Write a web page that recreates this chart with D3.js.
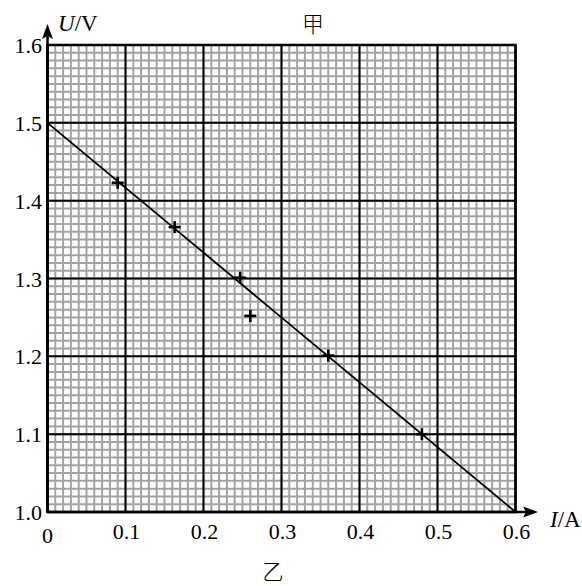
<!DOCTYPE html>
<html><head><meta charset="utf-8">
<script src="https://cdn.jsdelivr.net/npm/d3@7"></script>
<style>html,body{margin:0;padding:0;background:#fff;}svg{display:block;}</style>
</head><body>
<script>
const currentI = [0.09, 0.163, 0.247, 0.26, 0.36, 0.48];
const voltageU = [1.423, 1.366, 1.301, 1.252, 1.201, 1.10];
const fitI = [0, 0.6];
const fitU = [1.5, 1.0];
const xTicks = [0, 0.1, 0.2, 0.3, 0.4, 0.5, 0.6];
const yTicks = [1.0, 1.1, 1.2, 1.3, 1.4, 1.5, 1.6];

const W = 582, H = 586;
const svg = d3.select("body").append("svg").attr("width", W).attr("height", H);
const x = d3.scaleLinear().domain([0, 0.6]).range([47.5, 515.5]);
const y = d3.scaleLinear().domain([1.0, 1.6]).range([512, 45]);

// minor grid
const minorX = d3.range(0, 61).map(i => i * 0.01);
const minorY = d3.range(0, 61).map(i => 1.0 + i * 0.01);
const g = svg.append("g");
g.selectAll(".mx").data(minorX).enter().append("line")
  .attr("x1", d => x(d)).attr("x2", d => x(d)).attr("y1", y(1.0)).attr("y2", y(1.6))
  .attr("stroke", "#a3a3a3").attr("stroke-width", 2);
g.selectAll(".my").data(minorY).enter().append("line")
  .attr("y1", d => y(d)).attr("y2", d => y(d)).attr("x1", x(0)).attr("x2", x(0.6))
  .attr("stroke", "#a3a3a3").attr("stroke-width", 2);
// major grid
g.selectAll(".Mx").data(xTicks).enter().append("line")
  .attr("x1", d => x(d)).attr("x2", d => x(d)).attr("y1", y(1.0)).attr("y2", y(1.6))
  .attr("stroke", "#000").attr("stroke-width", 2);
g.selectAll(".My").data(yTicks).enter().append("line")
  .attr("y1", d => y(d)).attr("y2", d => y(d)).attr("x1", x(0)).attr("x2", x(0.6))
  .attr("stroke", "#000").attr("stroke-width", 2);
g.append("rect").attr("x", x(0)).attr("y", y(1.6)).attr("width", x(0.6) - x(0)).attr("height", y(1.0) - y(1.6))
  .attr("fill", "none").attr("stroke", "#000").attr("stroke-width", 2.5);

// axes with arrows
svg.append("line").attr("x1", x(0)).attr("x2", x(0)).attr("y1", y(1.0)).attr("y2", 30).attr("stroke", "#000").attr("stroke-width", 2.5);
svg.append("path").attr("d", `M${x(0)},24 L${x(0)-5.5},39 L${x(0)},36 L${x(0)+5.5},39 Z`).attr("fill", "#000");
svg.append("line").attr("x1", x(0)).attr("x2", 532).attr("y1", y(1.0)).attr("y2", y(1.0)).attr("stroke", "#000").attr("stroke-width", 2.5);
svg.append("path").attr("d", `M538,${y(1.0)} L523,${y(1.0)-5.5} L526,${y(1.0)} L523,${y(1.0)+5.5} Z`).attr("fill", "#000");

// fit line
svg.append("line").attr("x1", x(fitI[0])).attr("y1", y(fitU[0])).attr("x2", x(fitI[1])).attr("y2", y(fitU[1]))
  .attr("stroke", "#000").attr("stroke-width", 1.8);

// crosses
const pts = currentI.map((d, i) => [d, voltageU[i]]);
const cg = svg.selectAll(".pt").data(pts).enter().append("g");
cg.append("line").attr("x1", d => x(d[0]) - 6).attr("x2", d => x(d[0]) + 6).attr("y1", d => y(d[1])).attr("y2", d => y(d[1]))
  .attr("stroke", "#000").attr("stroke-width", 2.6);
cg.append("line").attr("x1", d => x(d[0])).attr("x2", d => x(d[0])).attr("y1", d => y(d[1]) - 6).attr("y2", d => y(d[1]) + 6)
  .attr("stroke", "#000").attr("stroke-width", 2.6);

const font = "'Liberation Serif','Times New Roman',serif";
// y tick labels
svg.selectAll(".yl").data(yTicks).enter().append("text")
  .attr("x", 42).attr("y", d => y(d) + 8).attr("text-anchor", "end")
  .attr("font-family", font).attr("font-size", 22).text(d => d.toFixed(1));
// x tick labels
svg.selectAll(".xl").data(xTicks).enter().append("text")
  .attr("x", d => x(d) + (d === 0 ? 0 : 1)).attr("y", d => d === 0 ? 543 : 539).attr("text-anchor", "middle")
  .attr("font-family", font).attr("font-size", 22).text(d => d === 0 ? "0" : d.toFixed(1));

// axis titles
const ut = svg.append("text").attr("x", 58).attr("y", 31).attr("font-family", font).attr("font-size", 23);
ut.append("tspan").attr("font-style", "italic").text("U");
ut.append("tspan").text("/V");
const it = svg.append("text").attr("x", 550).attr("y", 527).attr("font-family", font).attr("font-size", 23);
it.append("tspan").attr("font-style", "italic").text("I");
it.append("tspan").text("/A");

svg.append("text").attr("x", 313).attr("y", 32).attr("text-anchor", "middle")
  .attr("font-family", "'Noto Sans CJK SC',sans-serif").attr("font-size", 22).attr("font-weight", 300).text("甲");
svg.append("text").attr("x", 273).attr("y", 579).attr("text-anchor", "middle")
  .attr("font-family", "'Noto Sans CJK SC',sans-serif").attr("font-size", 21).attr("font-weight", 300).text("乙");
</script>
</body></html>
